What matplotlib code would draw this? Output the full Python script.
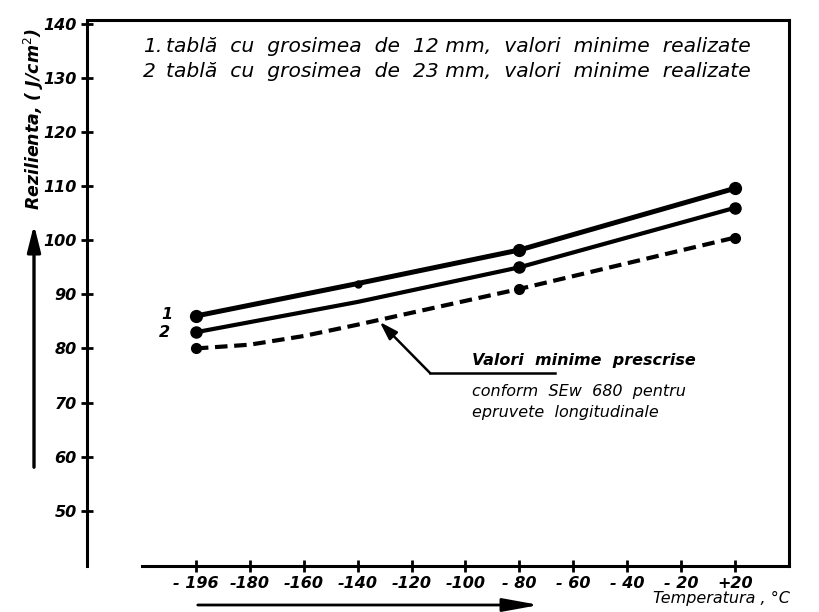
import numpy as np
import matplotlib
matplotlib.use('Agg')
import matplotlib.pyplot as plt

# =============================
# DATA
# =============================

# x axis ticks (hand-drawn, evenly spaced, not linear in temperature)
tick_temps = np.array([-196, -180, -160, -140, -120, -100, -80, -60, -40, -20, 20])
tick_labels = ['- 196', '-180', '-160', '-140', '-120', '-100', '- 80', '- 60', '- 40', '- 20', '+20']
y_ticks = [50, 60, 70, 80, 90, 100, 110, 120, 130, 140]

# curve 1: plate 12 mm, minimum values obtained
temp_1 = [-196, -140, -80, 20]
rez_1 = [86.0, 92.0, 98.2, 109.6]

# curve 2: plate 23 mm, minimum values obtained
temp_2 = [-196, -140, -80, 20]
rez_2 = [83.0, 88.6, 95.0, 106.0]

# prescribed minimum values (SEw 680)
temp_min = [-196, -180, -160, -140, -80, 20]
rez_min = [80.0, 80.7, 82.3, 84.4, 91.0, 100.5]

# =============================
# SCALE
# =============================

idx = np.arange(len(tick_temps), dtype=float)


def fwd(t):
    t = np.asarray(t, dtype=float)
    out = np.interp(t, tick_temps, idx)
    out = np.where(t < tick_temps[0], (t - tick_temps[0]) / 16.0, out)
    out = np.where(t > tick_temps[-1], idx[-1] + (t - tick_temps[-1]) / 40.0, out)
    return out


def inv(u):
    u = np.asarray(u, dtype=float)
    out = np.interp(u, idx, tick_temps)
    out = np.where(u < 0, tick_temps[0] + u * 16.0, out)
    out = np.where(u > idx[-1], tick_temps[-1] + (u - idx[-1]) * 40.0, out)
    return out


# =============================
# PLOT
# =============================

plt.rcParams['font.family'] = ['DejaVu Sans']
fig = plt.figure(figsize=(8.2, 6.12), dpi=100)
ax = fig.add_axes([87 / 820, 1 - 566 / 612, 702 / 820, 546 / 612])

ax.set_xscale('function', functions=(fwd, inv))
ax.set_xlim(inv(-2.02), inv(11.0))
ax.set_ylim(39.8, 140.7)

lw_axis = 2.2
for side in ['left', 'top', 'right', 'bottom']:
    ax.spines[side].set_linewidth(lw_axis)
ax.spines['bottom'].set_bounds(inv(-1.0), inv(11.0))
ax.spines['left'].set_bounds(39.8, 140.4)

ax.plot(temp_1, rez_1, color='black', lw=3.6, marker='o', ms=8.5,
        markevery=[0, 2, 3], solid_capstyle='round')
ax.plot(temp_1[1], rez_1[1], 'o', color='black', ms=5)
ax.plot(temp_2, rez_2, color='black', lw=3.0, marker='o', ms=8,
        markevery=[0, 2, 3], solid_capstyle='round')
ax.plot(temp_min, rez_min, color='black', lw=3.0, ls=(0, (3, 1.6)),
        marker='o', ms=7, markevery=[0, 4, 5])

ax.set_xticks(tick_temps)
ax.set_xticklabels(tick_labels)
ax.set_yticks(y_ticks)
ax.tick_params(axis='both', direction='inout', length=9, width=2,
               labelsize=11.5, pad=3)
for lab in ax.get_xticklabels() + ax.get_yticklabels():
    lab.set_fontstyle('italic')
    lab.set_fontweight('bold')

# legend texts at the top
txt_kw = dict(transform=ax.transAxes, fontsize=14.6, fontstyle='italic',
              va='center', ha='left')
ax.text(0.080, 0.951, '1.', **txt_kw)
ax.text(0.113, 0.951, 'tablă  cu  grosimea  de  12 mm,  valori  minime  realizate', **txt_kw)
ax.text(0.080, 0.905, '2', **txt_kw)
ax.text(0.113, 0.905, 'tablă  cu  grosimea  de  23 mm,  valori  minime  realizate', **txt_kw)

# curve numbers
ax.text(0.121, 0.460, '1', transform=ax.transAxes, fontsize=11.5,
        fontstyle='italic', fontweight='bold', ha='right', va='center')
ax.text(0.118, 0.427, '2', transform=ax.transAxes, fontsize=11.5,
        fontstyle='italic', fontweight='bold', ha='right', va='center')

# note for the dashed curve
ax.plot([0.489, 0.667], [0.353, 0.353], color='black', lw=1.8,
        transform=ax.transAxes)
ax.annotate('', xy=(0.417, 0.447), xycoords='axes fraction',
            xytext=(0.489, 0.353), textcoords='axes fraction',
            arrowprops=dict(arrowstyle='-|>,head_length=1.1,head_width=0.35',
                            color='black', lw=1.8, shrinkA=0, shrinkB=0))
note_kw = dict(transform=ax.transAxes, fontsize=11.5, fontstyle='italic',
               va='center', ha='left')
ax.text(0.548, 0.377, 'Valori  minime  prescrise', fontweight='bold', **note_kw)
ax.text(0.548, 0.319, 'conform  SEw  680  pentru', **note_kw)
ax.text(0.548, 0.282, 'epruvete  longitudinale', **note_kw)

# axis titles with arrows, outside the frame
fig.text(0.041, 0.806, 'Rezilienta, ( J/cm$^2$)', rotation=90, fontsize=12.5,
         fontstyle='italic', fontweight='bold', ha='center', va='center')
fig.patches.append(matplotlib.patches.FancyArrowPatch(
    (34 / 820, 1 - 470 / 612), (34 / 820, 1 - 222 / 612),
    transform=fig.transFigure, arrowstyle='-|>,head_length=16,head_width=4',
    color='black', lw=2.4))

fig.text(0.963, 0.022, 'Temperatura , °C', fontsize=11.5, fontstyle='italic',
         ha='right', va='center')
fig.patches.append(matplotlib.patches.FancyArrowPatch(
    (195 / 820, 1 - 605 / 612), (542 / 820, 1 - 605 / 612),
    transform=fig.transFigure, arrowstyle='-|>,head_length=22,head_width=4',
    color='black', lw=2.0))

fig.savefig('out.png', dpi=100)
